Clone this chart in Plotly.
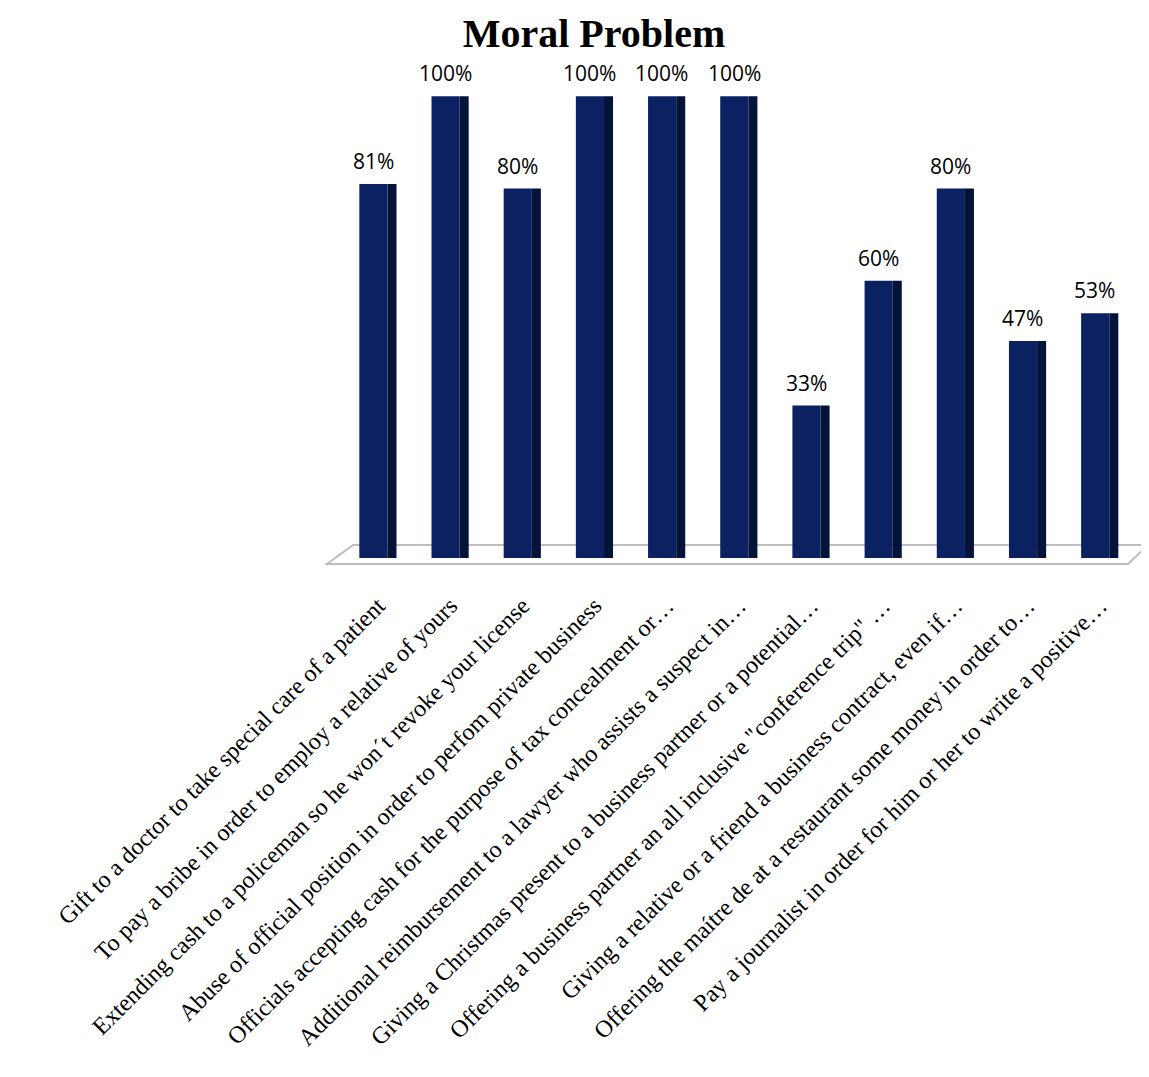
import plotly.graph_objects as go

categories = [
    "Gift to a doctor to take special care of a patient",
    "To pay a bribe in order to employ a relative of yours",
    "Extending cash to a policeman so he won´t revoke your license",
    "Abuse of official position in order to perfom private business",
    "Officials accepting cash for the purpose of tax concealment or…",
    "Additional reimbursement to a lawyer who assists a suspect in…",
    "Giving a Christmas present to a business partner or a potential…",
    "Offering a business partner an all inclusive \"conference trip\" …",
    "Giving a relative or a friend a business contract, even if…",
    "Offering the maítre de at a restaurant some money in order to…",
    "Pay a journalist in order for him or her to write a positive…",
]
values = [81, 100, 80, 100, 100, 100, 33, 60, 80, 47, 53]
labels = [f"{v}%" for v in values]

FRONT = "#0b2161"
SIDE = "#061339"

fig = go.Figure()
# side face (3D look)
fig.add_trace(go.Bar(
    x=categories, y=values, offset=0.13, width=0.125,
    marker=dict(color=SIDE, line=dict(width=0)),
    hoverinfo="skip", showlegend=False,
))
# front face
fig.add_trace(go.Bar(
    x=categories, y=values, offset=-0.26, width=0.39,
    marker=dict(color=FRONT, line=dict(width=0)),
    showlegend=False,
))

# value labels
for c, v, t in zip(categories, values, labels):
    fig.add_annotation(
        x=c, y=v, text=t, showarrow=False, yanchor="bottom", xanchor="center",
        xshift=-5, yshift=7,
        font=dict(family="Open Sans, Liberation Sans, sans-serif", size=21, color="black"),
    )

# floor (decorative)
fig.add_shape(
    type="path", xref="x domain", yref="y", layer="below",
    path="M -0.019,-1.3 L 0.99,-1.3 L 1.015,2.8 L 0.014,2.8 Z",
    line=dict(color="#bdbdbd", width=2), fillcolor="rgba(0,0,0,0)",
)

fig.update_layout(
    width=1149, height=1077,
    margin=dict(l=334, r=21, t=42, b=504),
    plot_bgcolor="white", paper_bgcolor="white",
    barmode="overlay",
    title=dict(text="<b>Moral Problem</b>", x=0.51, xanchor="center", y=0.977, yanchor="middle",
               font=dict(family="Liberation Serif, Times New Roman, serif", size=40, color="black")),
    xaxis=dict(
        tickangle=-45, showline=False, showgrid=False, ticks="",
        tickfont=dict(family="Liberation Serif, Times New Roman, serif", size=24, color="black"),
        ticklabelstandoff=5, automargin=False,
    ),
    yaxis=dict(range=[-5, 110], visible=False),
)

fig.write_html("out.html")
